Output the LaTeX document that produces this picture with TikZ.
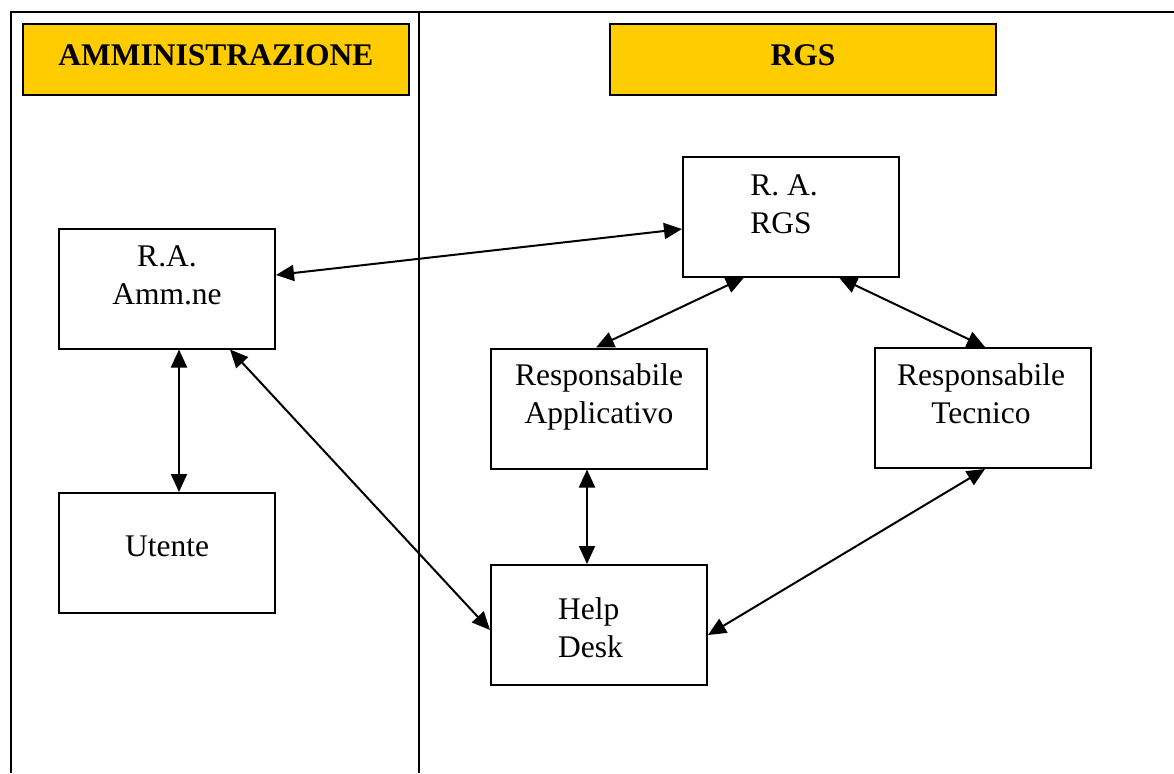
\documentclass[tikz,border=0pt]{standalone}
\usepackage{fontspec}
\setmainfont{Liberation Serif}
\usetikzlibrary{arrows.meta,positioning}
\definecolor{titleyellow}{HTML}{FFCC00}

\begin{document}
\begin{tikzpicture}[x=1pt,y=-1pt,>={Triangle[length=18pt,width=16pt]},
  line width=2pt,font=\fontsize{31.5}{38}\selectfont,
  box/.style={draw,minimum width=216pt,minimum height=120pt,inner sep=0pt},
  titlebox/.style={draw,fill=titleyellow,minimum width=386pt,minimum height=71pt,
    inner sep=0pt,font=\fontsize{31.5}{38}\selectfont\bfseries,text depth=8pt},
  txt/.style={inner sep=0pt,align=center},
  link/.style={<->}]

\useasboundingbox (0,0) rectangle (1174,773);

% Frame and column divider
\draw (1174,12) -- (11,12) -- (11,773);
\draw (419,12) -- (419,773);

% Column titles
\node[titlebox] (amm) at (216,59.5) {AMMINISTRAZIONE};
\node[titlebox] (rgs) at (803,59.5) {RGS};

% Boxes
\node[box] (ramm) at (167,288.5) {};
\node[box] (utente) at (167,553) {};
\node[box] (rrgs) at (791,216.5) {};
\node[box] (rapp) at (599,408.5) {};
\node[box] (rtec) at (983,408) {};
\node[box] (help) at (599,625) {};

% Box texts
\node[txt,below=17.4pt of ramm.north] (ramm-t) {R.A.\\Amm.ne};
\node[txt,below=42.4pt of utente.north] (utente-t) {Utente};
\node[txt,align=left,below=18.4pt of rrgs.north,xshift=-7pt] (rrgs-t) {R. A.\\RGS};
\node[txt,below=15.3pt of rapp.north] (rapp-t) {Responsabile\\Applicativo};
\node[txt,below=15.3pt of rtec.north,xshift=-2pt] (rtec-t) {Responsabile\\Tecnico};
\node[txt,align=left,below=32.3pt of help.north,xshift=-8.5pt] (help-t) {Help\\Desk};

% Links
\draw[link] ([yshift=13.5pt]ramm.east) -- ([yshift=-12.5pt]rrgs.west);
\draw[link] ([xshift=12pt]ramm.south) -- ([xshift=12pt]utente.north);
\draw[link] ([xshift=63pt]ramm.south) -- ([yshift=-5pt]help.west);
\draw[link] ([xshift=-47pt]rrgs.south) -- ([xshift=-3pt]rapp.north);
\draw[link] ([xshift=48pt]rrgs.south) -- ([xshift=2pt]rtec.north);
\draw[link] ([xshift=-12pt]rapp.south) -- ([xshift=-12pt]help.north);
\draw[link] ([xshift=2pt]rtec.south) -- ([yshift=-10pt]help.east);

\end{tikzpicture}
\end{document}
